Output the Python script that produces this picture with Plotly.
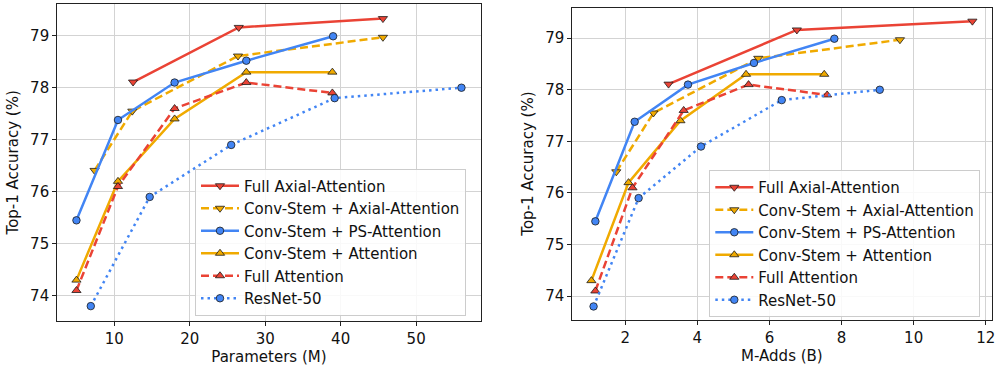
import plotly.graph_objects as go

# ---- data ----
series_names = ["Full Axial-Attention", "Conv-Stem + Axial-Attention", "Conv-Stem + PS-Attention",
                "Conv-Stem + Attention", "Full Attention", "ResNet-50"]

params_full_axial = [12.5, 26.5, 45.6]
madds_full_axial = [3.2, 6.76, 11.63]
acc_full_axial = [78.11, 79.16, 79.33]

params_conv_axial = [7.4, 12.4, 26.4, 45.6]
madds_conv_axial = [1.75, 2.78, 5.69, 9.62]
acc_conv_axial = [76.41, 77.55, 78.61, 78.97]

params_conv_ps = [5.0, 10.5, 18.0, 27.5, 39.0]
madds_conv_ps = [1.17, 2.26, 3.74, 5.57, 7.80]
acc_conv_ps = [75.45, 77.38, 78.1, 78.52, 78.99]

params_conv_attn = [5.0, 10.5, 18.0, 27.5, 38.9]
madds_conv_attn = [1.06, 2.09, 3.53, 5.35, 7.52]
acc_conv_attn = [74.3, 76.2, 77.4, 78.3, 78.3]

params_full_attn = [5.0, 10.5, 18.0, 27.5, 38.9]
madds_full_attn = [1.17, 2.2, 3.62, 5.42, 7.6]
acc_full_attn = [74.1, 76.1, 77.6, 78.1, 77.9]

params_resnet = [6.9, 14.7, 25.5, 39.2, 56.0]
madds_resnet = [1.12, 2.37, 4.1, 6.34, 9.06]
acc_resnet = [73.8, 75.9, 76.9, 77.8, 78.0]

params_ticks = [10, 20, 30, 40, 50]
madds_ticks = [2, 4, 6, 8, 10, 12]
acc_ticks = [74, 75, 76, 77, 78, 79]

RED = "#EA4335"
YEL = "#F0AA00"
BLUE = "#4285F4"

styles = [
    (RED, "solid", "triangle-down"),
    (YEL, "8px,4px", "triangle-down"),
    (BLUE, "solid", "circle"),
    (YEL, "solid", "triangle-up"),
    (RED, "8px,4px", "triangle-up"),
    (BLUE, "2.5px,4px", "circle"),
]
params_all = [params_full_axial, params_conv_axial, params_conv_ps, params_conv_attn, params_full_attn, params_resnet]
madds_all = [madds_full_axial, madds_conv_axial, madds_conv_ps, madds_conv_attn, madds_full_attn, madds_resnet]
acc_all = [acc_full_axial, acc_conv_axial, acc_conv_ps, acc_conv_attn, acc_full_attn, acc_resnet]

FONT = "DejaVu Sans"
fig = go.Figure()

for panel, xs_all, xa, ya, leg in [(0, params_all, "x", "y", "legend"), (1, madds_all, "x2", "y2", "legend2")]:
    for name, xs, ys, (col, dash, sym) in zip(series_names, xs_all, acc_all, styles):
        msize = 7.5 if sym == "circle" else 8
        fig.add_trace(go.Scatter(
            x=xs, y=ys, name=name, mode="lines+markers",
            xaxis=xa, yaxis=ya, legend=leg,
            line=dict(color=col, width=2.5, dash=dash),
            marker=dict(symbol=sym, size=msize, color=col, line=dict(color="#1a1a1a", width=0.8)),
        ))

axis_common = dict(
    showgrid=True, gridcolor="#d3d3d3", gridwidth=1,
    showline=True, linecolor="#222222", linewidth=1, mirror=True,
    ticks="outside", ticklen=4, tickcolor="#222222", tickwidth=1,
    zeroline=False, tickfont=dict(family=FONT, size=15, color="#111111"),
    automargin=False,
)

W, H = 999, 366
fig.update_layout(
    width=W, height=H,
    margin=dict(l=0, r=0, t=0, b=0),
    paper_bgcolor="white", plot_bgcolor="white",
    font=dict(family=FONT, size=15, color="#111111"),
    xaxis=dict(domain=[57.2 / W, 480.7 / W], range=[2.45, 58.55], tickvals=params_ticks,
               title=dict(text="Parameters (M)", standoff=2, font=dict(family=FONT, size=15)),
               anchor="y", **axis_common),
    yaxis=dict(domain=[(H - 321.2) / H, (H - 3.5) / H], range=[73.51, 79.62], tickvals=acc_ticks,
               title=dict(text="Top-1 Accuracy (%)", standoff=7, font=dict(family=FONT, size=15)),
               anchor="x", **axis_common),
    xaxis2=dict(domain=[572.3 / W, 991.5 / W], range=[0.53, 12.16], tickvals=madds_ticks,
                title=dict(text="M-Adds (B)", standoff=2, font=dict(family=FONT, size=15)),
                anchor="y2", **axis_common),
    yaxis2=dict(domain=[(H - 319.6) / H, (H - 7.5) / H], range=[73.545, 79.595], tickvals=acc_ticks,
                title=dict(text="Top-1 Accuracy (%)", standoff=7, font=dict(family=FONT, size=15)),
                anchor="x2", **axis_common),
    legend=dict(x=195 / W, y=(H - 168.5) / H, xanchor="left", yanchor="top",
                bgcolor="rgba(255,255,255,0.85)", bordercolor="#cccccc", borderwidth=1,
                font=dict(family=FONT, size=15, color="#111111"), itemwidth=38),
    legend2=dict(x=709.3 / W, y=(H - 170) / H, xanchor="left", yanchor="top",
                 bgcolor="rgba(255,255,255,0.85)", bordercolor="#cccccc", borderwidth=1,
                 font=dict(family=FONT, size=15, color="#111111"), itemwidth=38),
    showlegend=True,
)

fig.write_html("out.html", config={"displayModeBar": False},
               post_script="document.body.style.margin='0px';document.body.style.overflow='hidden';")
